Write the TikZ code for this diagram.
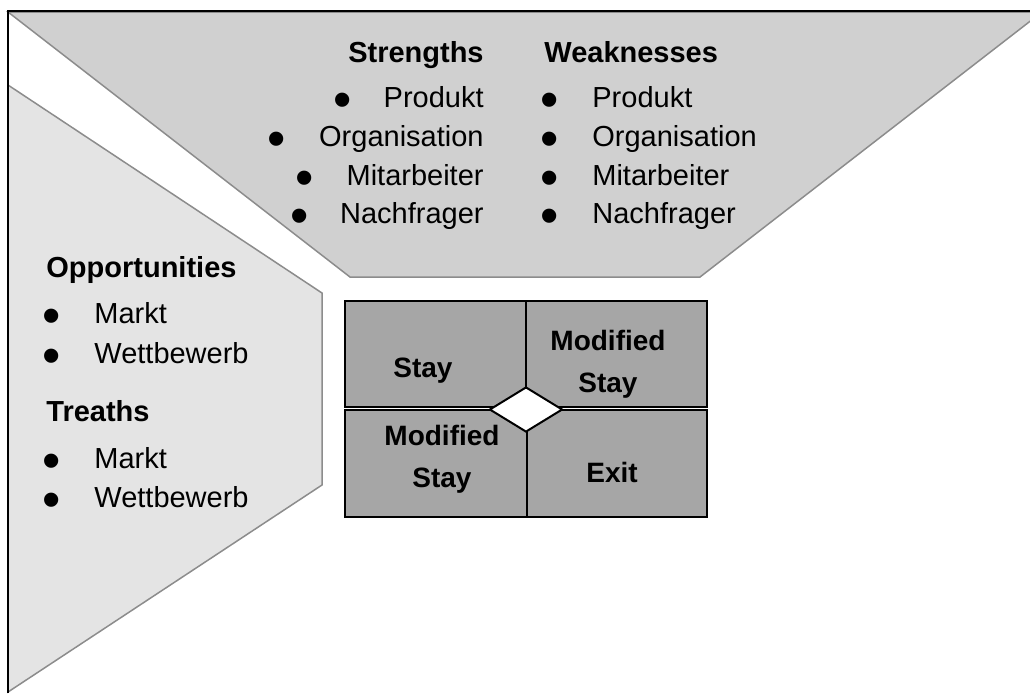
\documentclass[tikz,border=0pt]{standalone}
\usepackage{fontspec}
\setmainfont{Liberation Sans}
\usepackage{graphicx}
\usepackage{xcolor}
\usepackage{tikz}
\usetikzlibrary{shapes.geometric,positioning}
\definecolor{obengrau}{HTML}{D0D0D0}
\definecolor{linksgrau}{HTML}{E4E4E4}
\definecolor{zellgrau}{HTML}{A6A6A6}
\definecolor{kantengrau}{HTML}{8C8C8C}
\newcommand{\grosspunkt}{\scalebox{1.8}{\textbullet}}
\tikzset{
  rahmen/.style={draw=black, line width=1pt},
  flaeche/.style={draw=kantengrau, line width=0.75pt, line join=miter},
  titel/.style={inner sep=0pt, font=\fontsize{14.5}{17}\selectfont\bfseries},
  eintrag/.style={inner sep=0pt, font=\fontsize{14.5}{17}\selectfont},
  punkt/.style={inner sep=0pt, anchor=base, yshift=-5.3pt,
                text height=9pt, text depth=0pt,
                font=\fontsize{14.5}{17}\selectfont},
  zelle/.style={draw=black, fill=zellgrau, line width=1pt},
  feld/.style={inner sep=0pt, align=center, anchor=base,
               font=\fontsize{14}{21}\selectfont\bfseries},
  raute/.style={diamond, draw=black, fill=white, line width=1pt, inner sep=0pt,
                minimum width=36.5pt, minimum height=22.5pt}
}

\begin{document}
\begin{tikzpicture}[x=0.5pt, y=-0.5pt]
  \useasboundingbox (0,0) rectangle (1030,693);
  \clip (0,0) rectangle (1030,693);
  \filldraw[flaeche, fill=obengrau] (8,12) -- (1042,12) -- (700,277) -- (350,277) -- cycle;
  \filldraw[flaeche, fill=linksgrau] (8,85) -- (322,293) -- (322,485) -- (8,692) -- cycle;
  \draw[rahmen] (1030,11) -- (8,11) -- (8,693);

  \node[titel, anchor=base east] (staerken) at (484,62) {Strengths};
  \node[punkt] (sp1) at (343,107) {\grosspunkt};
  \node[punkt] (sp2) at (277,146) {\grosspunkt};
  \node[punkt] (sp3) at (305,185) {\grosspunkt};
  \node[punkt] (sp4) at (300,223) {\grosspunkt};
  \node[eintrag, anchor=base east] (s1) at (484,107) {Produkt};
  \node[eintrag, anchor=base east] (s2) at (484,146) {Organisation};
  \node[eintrag, anchor=base east] (s3) at (484,185) {Mitarbeiter};
  \node[eintrag, anchor=base east] (s4) at (484,223) {Nachfrager};

  \node[titel, anchor=base west] (schwaechen) at (544,62) {Weaknesses};
  \node[punkt] (wp1) at (550,107) {\grosspunkt};
  \node[punkt] (wp2) at (550,146) {\grosspunkt};
  \node[punkt] (wp3) at (550,185) {\grosspunkt};
  \node[punkt] (wp4) at (550,223) {\grosspunkt};
  \node[eintrag, anchor=base west] (w1) at (592,107) {Produkt};
  \node[eintrag, anchor=base west] (w2) at (592,146) {Organisation};
  \node[eintrag, anchor=base west] (w3) at (592,185) {Mitarbeiter};
  \node[eintrag, anchor=base west] (w4) at (592,223) {Nachfrager};

  \node[titel, anchor=base west] (chancen) at (46,277) {Opportunities};
  \node[punkt] (cp1) at (52,323) {\grosspunkt};
  \node[punkt] (cp2) at (52,363) {\grosspunkt};
  \node[eintrag, anchor=base west] (c1) at (94,323) {Markt};
  \node[eintrag, anchor=base west] (c2) at (94,363) {Wettbewerb};

  \node[titel, anchor=base west] (risiken) at (46,421) {Treaths};
  \node[punkt] (rp1) at (52,468) {\grosspunkt};
  \node[punkt] (rp2) at (52,507) {\grosspunkt};
  \node[eintrag, anchor=base west] (r1) at (94,468) {Markt};
  \node[eintrag, anchor=base west] (r2) at (94,507) {Wettbewerb};

  \draw[zelle] (345,301) rectangle (526,407);
  \draw[zelle] (526,301) rectangle (707,407);
  \draw[zelle] (345,410) rectangle (527,517);
  \draw[zelle] (527,410) rectangle (707,517);
  \node[raute] (mitte) at (526,409.5) {};
  \node[feld] (stay) at (423,377) {Stay};
  \node[feld] (modobenrechts) at (608,392) {Modified\\Stay};
  \node[feld] (modmitte) at (442,487) {Modified\\Stay};
  \node[feld] (exit) at (612,482) {Exit};
\end{tikzpicture}
\end{document}
